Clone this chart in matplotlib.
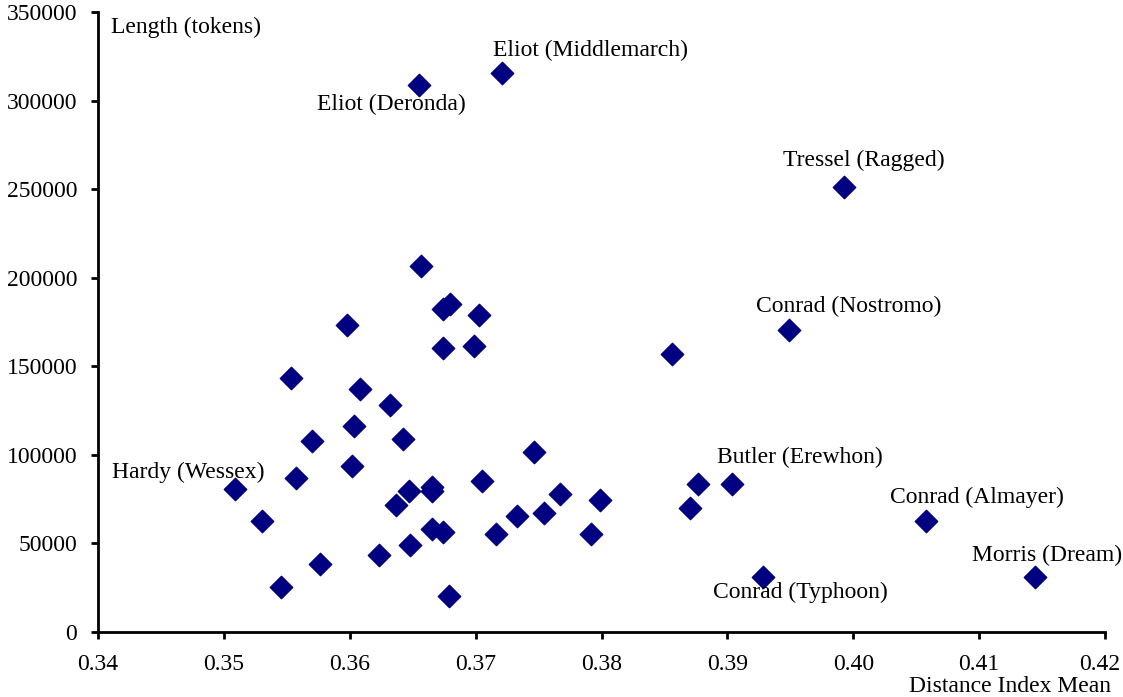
import matplotlib
matplotlib.use("Agg")
import matplotlib.pyplot as plt
import matplotlib.transforms as mtransforms

plt.rcParams['font.family'] = ['Liberation Serif', 'DejaVu Serif']

# distance index mean vs length in tokens
dist = [0.3655, 0.3721, 0.3993, 0.3657, 0.3674, 0.3680, 0.3703, 0.3598,
        0.3949, 0.3674, 0.3699, 0.3856, 0.3553, 0.3608, 0.3632, 0.3603,
        0.3570, 0.3642, 0.3746, 0.3602, 0.3557, 0.3705, 0.3509, 0.3665,
        0.3665, 0.3647, 0.3637, 0.3767, 0.3799, 0.3877, 0.3904, 0.3870,
        0.3733, 0.3754, 0.3530, 0.4058, 0.3665, 0.3674, 0.3716, 0.3792,
        0.3648, 0.3623, 0.3576, 0.3928, 0.4144, 0.3545, 0.3679]
length = [309000, 315500, 251000, 206500, 182300, 185100, 178900, 173300,
          170400, 160300, 161400, 156900, 143300, 137100, 128100, 116300,
          107800, 108900, 101600, 93700, 86900, 85200, 80700, 81800,
          79600, 79600, 71700, 77900, 74500, 83500, 83500, 70000,
          65500, 67200, 62600, 62600, 58100, 56400, 55300, 55300,
          49100, 43500, 38400, 31000, 31000, 25400, 20300]

# labelled texts: name, index of point, offset in pixels
labels = ["Eliot (Deronda)", "Eliot (Middlemarch)", "Tressel (Ragged)",
          "Conrad (Nostromo)", "Hardy (Wessex)", "Butler (Erewhon)",
          "Conrad (Almayer)", "Conrad (Typhoon)", "Morris (Dream)"]
label_idx = [0, 1, 2, 8, 22, 30, 35, 43, 44]
label_off = [(-28, -20), (88, 23), (19, 27), (60, 24), (-47, 17),
             (67, 27), (51, 24), (38, -15), (13, 22)]

xticks = [0.34, 0.35, 0.36, 0.37, 0.38, 0.39, 0.40, 0.41, 0.42]
xtick_labels = ['0.34', '0.35', '0.36', '0.37', '0.38', '0.39',
                '0.40', '0.41', '0.42']
yticks = list(range(0, 350001, 50000))

fig = plt.figure(figsize=(11.23, 6.97), dpi=100)
ax = fig.add_axes([98 / 1123, 65 / 697, 1007 / 1123, 620 / 697])

ax.scatter(dist, length, marker='D', s=130, color='#000080', zorder=3)

for name, i, off in zip(labels, label_idx, label_off):
    ax.annotate(name, (dist[i], length[i]), xytext=off,
                textcoords='offset pixels', ha='center', va='center',
                fontsize=17)

ax.set_xlim(0.34, 0.42)
ax.set_ylim(0, 350000)
ax.set_xticks(xticks)
ax.set_xticklabels(xtick_labels)
ax.set_yticks(yticks)
ax.set_yticklabels([str(v) for v in yticks])

for side in ['top', 'right']:
    ax.spines[side].set_visible(False)
for side in ['left', 'bottom']:
    ax.spines[side].set_linewidth(2)
ax.tick_params(direction='out', length=5, width=2, labelsize=17)
ax.tick_params(axis='x', pad=11)
ax.tick_params(axis='y', pad=10)

# last x label sits a bit to the left, as in the original
last = ax.get_xticklabels()[-1]
last.set_transform(last.get_transform() +
                   mtransforms.ScaledTranslation(-5 / 100, 0, fig.dpi_scale_trans))

ax.text(0.013, 0.975, "Length (tokens)", transform=ax.transAxes,
        ha='left', va='center', fontsize=17)
fig.text(1111 / 1123, 10 / 697, "Distance Index Mean",
         ha='right', va='center', fontsize=17)

fig.savefig("out.png", dpi=100)
